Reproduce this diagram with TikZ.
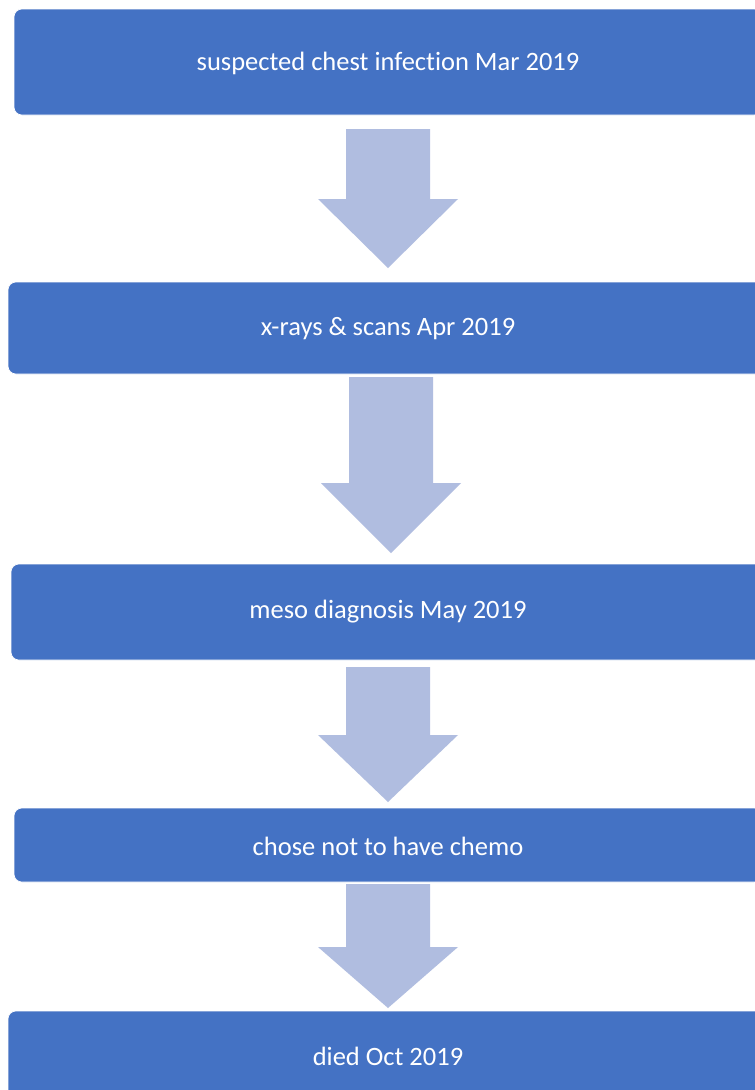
\documentclass[tikz,border=0pt]{standalone}
\usepackage{fontspec}
\setmainfont{Carlito}[Ligatures=NoCommon]
\definecolor{boxblue}{HTML}{4472C4}
\definecolor{arrowblue}{HTML}{B0BDE0}
\tikzset{
  stepbox/.style={draw=white, line width=0.6pt, fill=boxblue, rounded corners=8pt,
    inner sep=0pt, minimum width=#1, text=white,
    font=\fontsize{26.5}{32}\selectfont},
  bigarrow/.style={fill=arrowblue, draw=none},
  lbl/.style={text=white, font=\fontsize{26.5}{32}\selectfont, inner sep=0pt}
}
% #1 center x, #2 top, #3 head start, #4 tip
\newcommand{\downarrowshape}[4]{%
  \fill[bigarrow] (#1-42,#2) -- (#1+42,#2) -- (#1+42,#3) -- (#1+70,#3) -- (#1,#4) -- (#1-70,#3) -- (#1-42,#3) -- cycle;}
\begin{document}
\begin{tikzpicture}[x=1pt,y=-1pt]
\useasboundingbox (0,0) rectangle (755,1090);
\clip (0,0) rectangle (755,1090);
\fill[white] (0,0) rectangle (755,1090);
% boxes
\node[stepbox=748pt, minimum height=106pt] (b1) at (388,62) {};
\node[stepbox=760pt, minimum height=92pt] (b2) at (388,328) {};
\node[stepbox=754pt, minimum height=96pt] (b3) at (388,612) {};
\node[stepbox=748pt, minimum height=74pt] (b4) at (388,845) {};
\node[stepbox=760pt, minimum height=90pt] (b5) at (388,1056) {};
% labels
\node[lbl] (t1) at (388,63) {suspected chest infection Mar 2019};
\node[lbl] (t2) at (388,329) {x-rays \& scans Apr 2019};
\node[lbl] (t3) at (388,612) {meso diagnosis May 2019};
\node[lbl] (t4) at (388,846) {chose not to have chemo};
\node[lbl] (t5) at (388,1056) {died Oct 2019};
% arrows
\downarrowshape{388}{129}{199}{268}
\downarrowshape{391}{377}{483}{553}
\downarrowshape{388}{667}{735}{802}
\downarrowshape{388}{884}{947}{1008}
\end{tikzpicture}
\end{document}
